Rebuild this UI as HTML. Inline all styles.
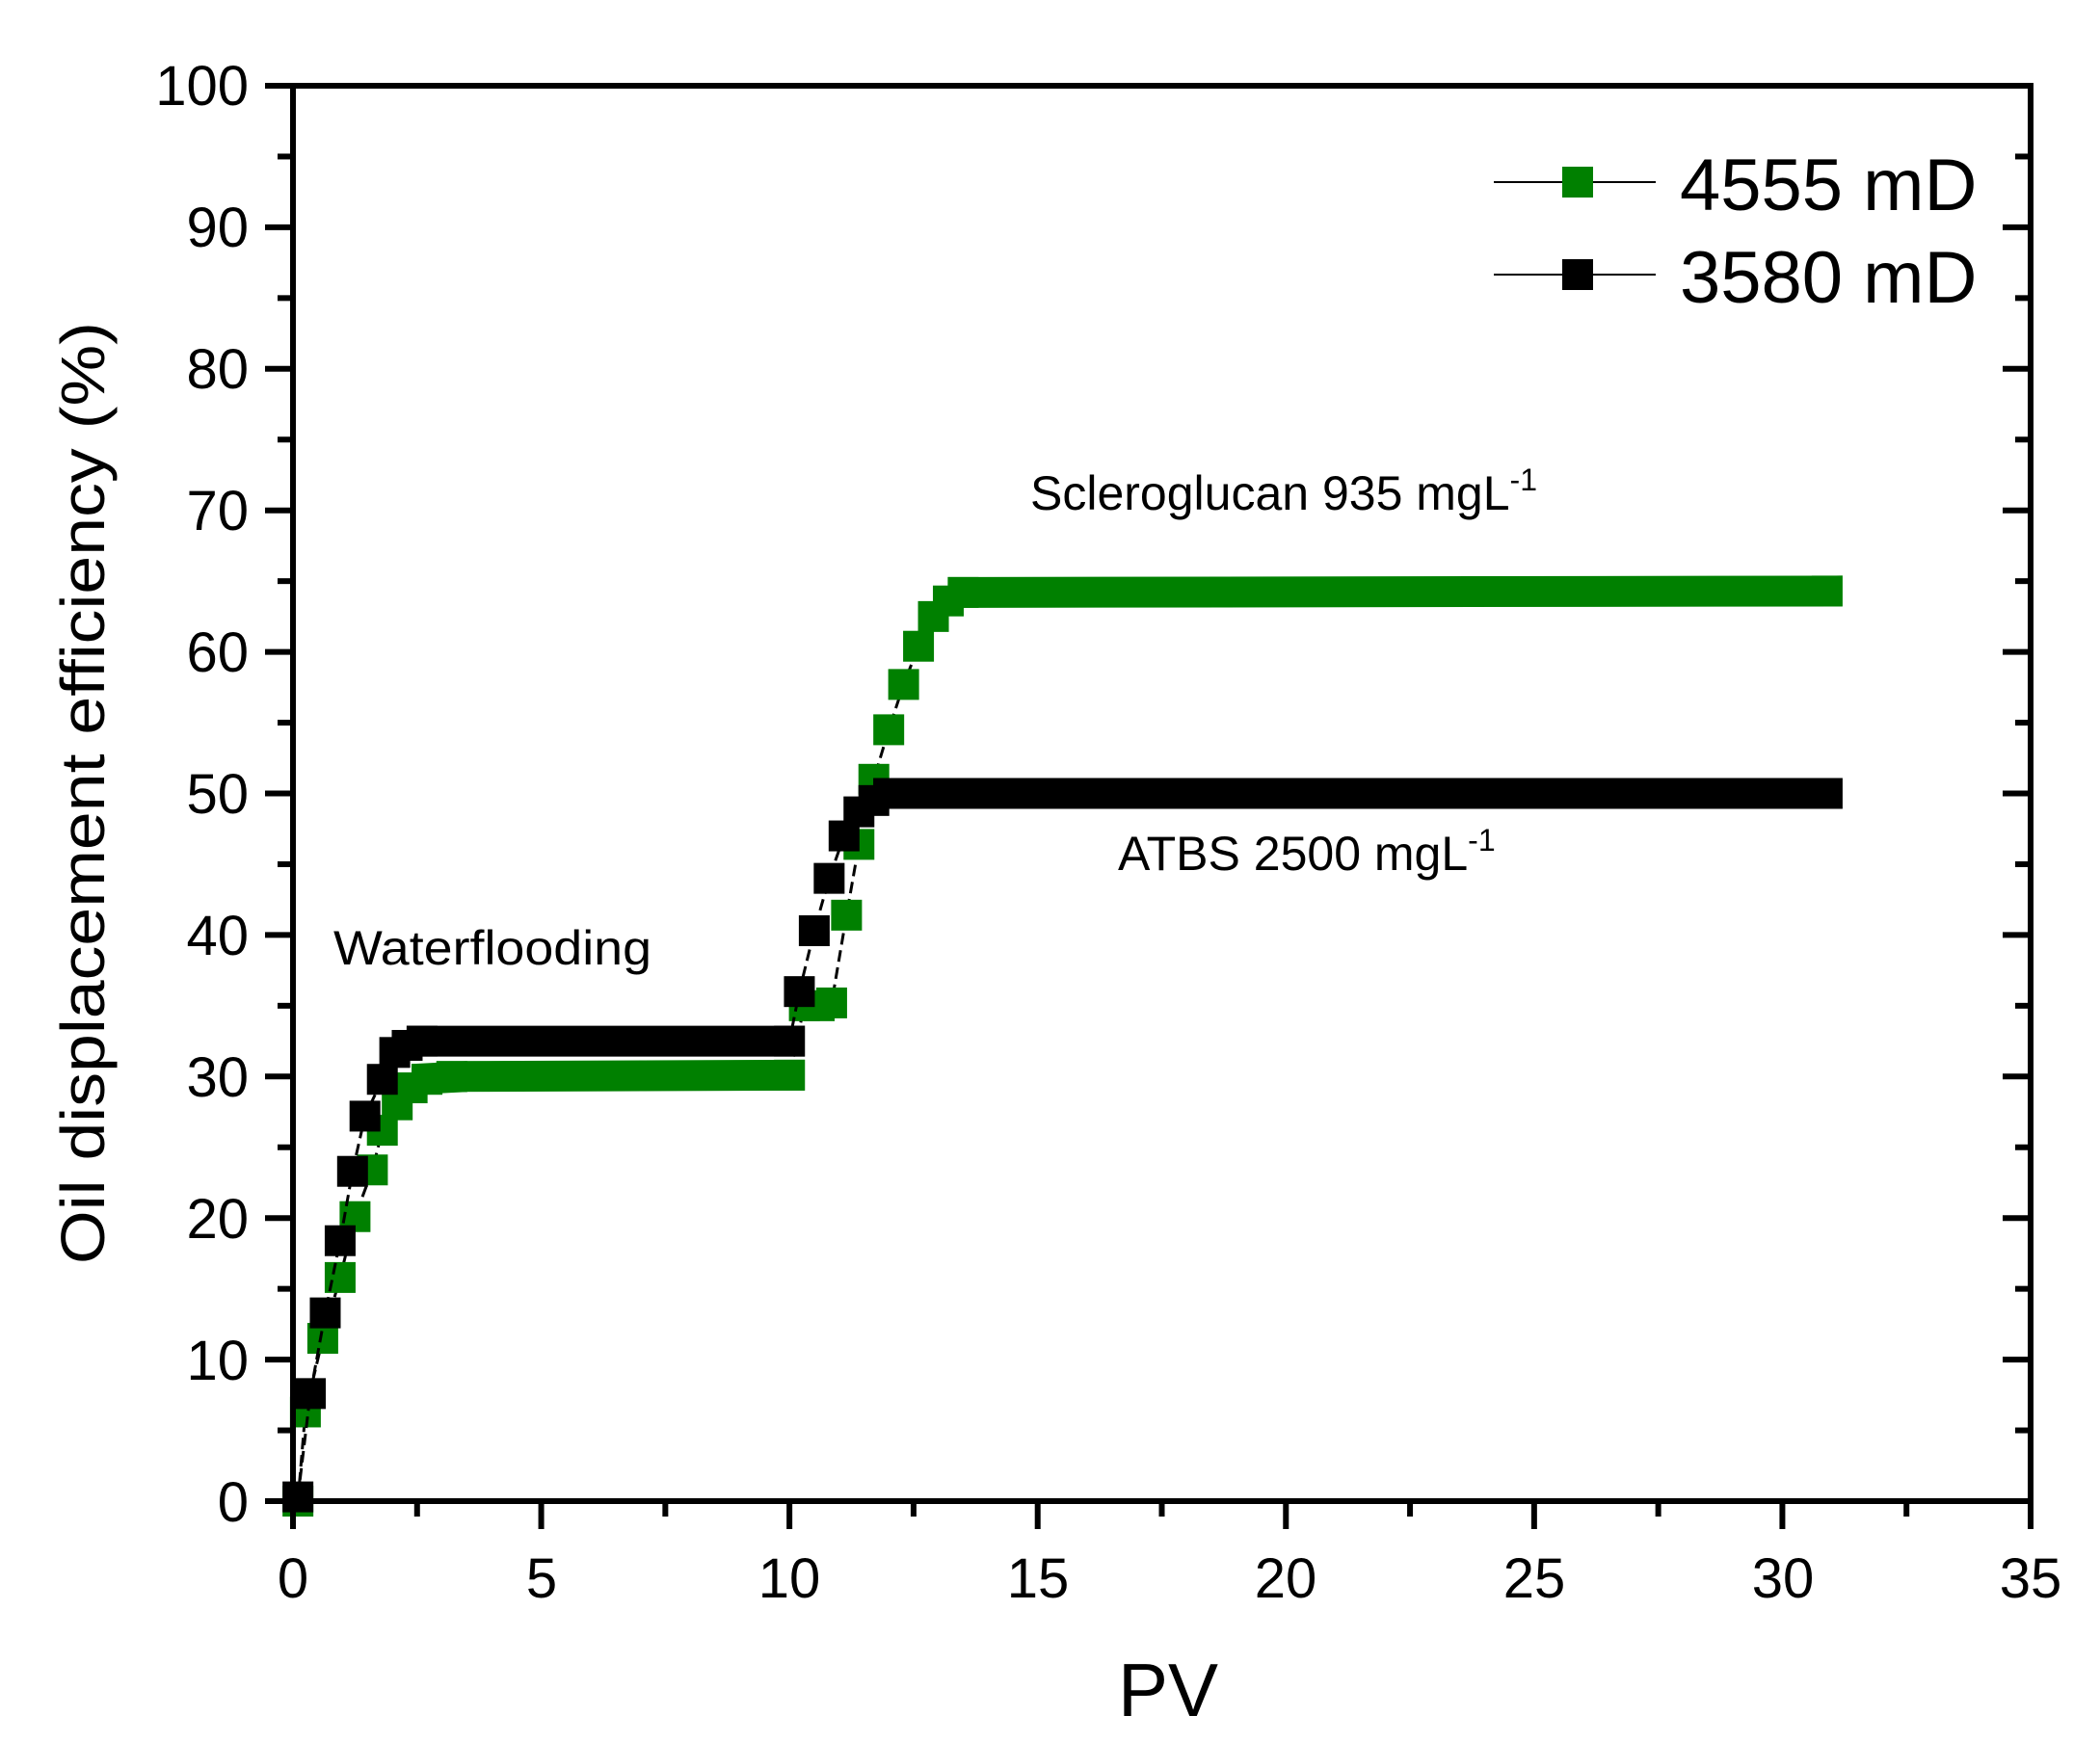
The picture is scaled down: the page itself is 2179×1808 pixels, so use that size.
<!DOCTYPE html>
<html><head><meta charset="utf-8"><style>
html,body{margin:0;padding:0;background:#fff;}
svg{display:block;font-family:"Liberation Sans",Arial,sans-serif;}
</style></head><body>
<svg id="c" width="2179" height="1808" viewBox="0 0 2179 1808" xmlns="http://www.w3.org/2000/svg">
<rect width="2179" height="1808" fill="#fff"/>
<g id="data"></g>
<g id="axes" stroke="#000" stroke-width="6" fill="none" stroke-linecap="square">
<rect x="304" y="89" width="1803" height="1469"/>
</g>
<g id="ticks" stroke="#000" stroke-width="6"></g>
<g font-size="58" fill="#000" text-anchor="middle">
<text x="304" y="1658">0</text><text x="562" y="1658">5</text><text x="819" y="1658">10</text>
<text x="1077" y="1658">15</text><text x="1334" y="1658">20</text><text x="1592" y="1658">25</text>
<text x="1850" y="1658">30</text><text x="2107" y="1658">35</text>
</g>
<g font-size="58" fill="#000" text-anchor="end">
<text x="258" y="1579">0</text><text x="258" y="1432">10</text><text x="258" y="1285">20</text>
<text x="258" y="1138">30</text><text x="258" y="991">40</text><text x="258" y="844">50</text>
<text x="258" y="697">60</text><text x="258" y="550">70</text><text x="258" y="403">80</text>
<text x="258" y="256">90</text><text x="258" y="109">100</text>
</g>
<text x="1212" y="1781" font-size="78" text-anchor="middle">PV</text>
<text transform="translate(108,823) rotate(-90)" font-size="64" text-anchor="middle" textLength="978" lengthAdjust="spacingAndGlyphs">Oil displacement efficiency (%)</text>
<text x="346" y="1001" font-size="50" textLength="330" lengthAdjust="spacingAndGlyphs">Waterflooding</text>
<text x="1069" y="529" font-size="50">Scleroglucan 935 mgL<tspan dy="-20" font-size="32">-1</tspan></text>
<text x="1160" y="903" font-size="50">ATBS 2500 mgL<tspan dy="-20" font-size="32">-1</tspan></text>
<g>
<line x1="1550" y1="189" x2="1718" y2="189" stroke="#000" stroke-width="2"/>
<rect x="1621" y="173" width="32" height="32" fill="#008000"/>
<text x="1743" y="218" font-size="76">4555 mD</text>
<line x1="1550" y1="285" x2="1718" y2="285" stroke="#000" stroke-width="2"/>
<rect x="1621" y="269" width="32" height="32" fill="#000"/>
<text x="1743" y="314" font-size="76">3580 mD</text>
</g>
</svg>
<script>
var X=function(v){return 304+v*51.514;},Y=function(v){return 1558-v*14.69;};
var t=document.getElementById('ticks'),s='';
for(var i=0;i<=14;i++){var x=X(i*2.5),L=(i%2==0)?29:16;
 s+='<line x1="'+x+'" y1="1558" x2="'+x+'" y2="'+(1558+L)+'"/>';}
for(var j=0;j<=20;j++){var y=Y(j*5),L=(j%2==0)?29:16;
 s+='<line x1="304" y1="'+y+'" x2="'+(304-L)+'" y2="'+y+'"/>';
 s+='<line x1="2107" y1="'+y+'" x2="'+(2107-L)+'" y2="'+y+'"/>';}
t.innerHTML=s;
var g=[[0.1,0],[0.25,6.3],[0.6,11.5],[0.95,15.8],[1.25,20.1],[1.6,23.4],[1.8,26.2],[2.1,28.0],[2.4,29.2],[2.7,29.8],[3.2,30],[10.0,30.1],[10.3,35],[10.6,35],[10.85,35.2],[11.15,41.4],[11.4,46.4],[11.7,51.0],[12,54.5],[12.3,57.7],[12.6,60.4],[12.9,62.5],[13.2,63.6],[13.5,64.2],[30.9,64.3]];
var b=[[0.1,0.3],[0.35,7.6],[0.65,13.3],[0.95,18.4],[1.2,23.3],[1.45,27.2],[1.8,29.8],[2.05,31.7],[2.3,32.2],[2.6,32.5],[10.0,32.5],[10.2,36],[10.5,40.3],[10.8,44],[11.1,47],[11.4,48.7],[11.7,49.5],[12,50],[30.9,50]];
function draw(d,col,plat){var o='',p='';
 d.forEach(function(q,k){p+=(k?'L':'M')+X(q[0])+' '+Y(q[1]);});
 o+='<path d="'+p+'" fill="none" stroke="#000" stroke-width="3" stroke-dasharray="12 6"/>';
 for(var k=0;k<d.length;k++){o+='<rect x="'+(X(d[k][0])-16)+'" y="'+(Y(d[k][1])-16)+'" width="32" height="32" fill="'+col+'"/>';
  if(k<d.length-1 && plat.indexOf(k)>=0){var x1=X(d[k][0]),x2=X(d[k+1][0]),y1=Y(d[k][1]),y2=Y(d[k+1][1]);
   o+='<polygon points="'+(x1-16)+','+(y1-16)+' '+(x2+16)+','+(y2-16)+' '+(x2+16)+','+(y2+16)+' '+(x1-16)+','+(y1+16)+'" fill="'+col+'"/>';}}
 return o;}
document.getElementById('data').innerHTML=draw(g,'#008000',[9,10,23])+draw(b,'#000',[9,17]);
</script>
</body></html>
